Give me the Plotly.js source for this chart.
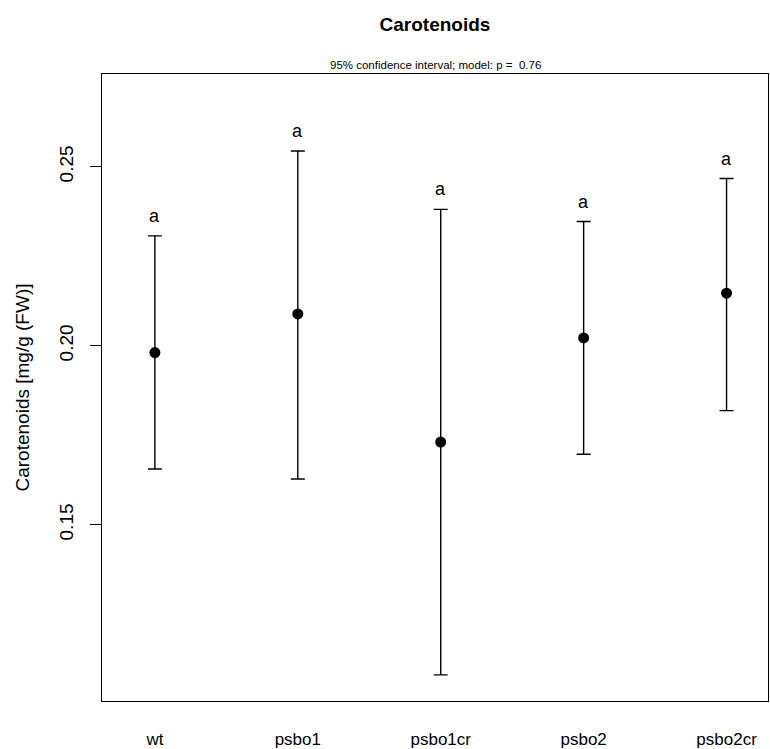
<!DOCTYPE html>
<html>
<head>
<meta charset="utf-8">
<script src="https://cdn.plot.ly/plotly-3.0.1.min.js"></script>
<style>html,body{margin:0;padding:0;background:#fff;}</style>
</head>
<body>
<div id="chart" style="width:770px;height:749px;"></div>
<script>
const groups = ["wt", "psbo1", "psbo1cr", "psbo2", "psbo2cr"];
const means = [0.1981, 0.2089, 0.1731, 0.2022, 0.2147];
const upper = [0.2307, 0.2544, 0.2381, 0.2347, 0.2467];
const lower = [0.1656, 0.1628, 0.1081, 0.1697, 0.1819];
const letters = ["a", "a", "a", "a", "a"];
const yTicks = [0.15, 0.20, 0.25];
const yTickText = ["0.15", "0.20", "0.25"];

const font = '"Liberation Sans", Arial, Helvetica, sans-serif';

const xIdx = groups.map((g, i) => i);
const trace = {
  type: 'scatter', mode: 'markers',
  x: xIdx, y: means,
  marker: {color: '#000', size: 11},
  error_y: {
    type: 'data', symmetric: false,
    array: upper.map((u, i) => u - means[i]),
    arrayminus: lower.map((l, i) => means[i] - l),
    color: '#000', thickness: 1.4, width: 7
  },
  hoverinfo: 'skip', showlegend: false
};

const annotations = letters.map((t, i) => ({
  x: i, y: upper[i], xref: 'x', yref: 'y', text: t, showarrow: false,
  yanchor: 'bottom', yshift: 8, font: {family: font, size: 18, color: '#000'}
}));
annotations.push({
  x: 0.5, y: 1, xref: 'paper', yref: 'paper', yanchor: 'bottom', yshift: 1,
  text: '95% confidence interval; model: p =  0.76', showarrow: false,
  font: {family: font, size: 11.5, color: '#000'}
});

const layout = {
  width: 770, height: 749,
  margin: {l: 102, r: 2, t: 74, b: 48},
  paper_bgcolor: '#fff', plot_bgcolor: '#fff',
  title: {text: '<b>Carotenoids</b>', x: 0.5, xanchor: 'center', xref: 'paper',
          y: 1 - 24/749, yanchor: 'middle', yref: 'container',
          font: {family: font, size: 19, color: '#000'}},
  xaxis: {
    range: [-0.37, 4.29], tickmode: 'array', tickvals: xIdx, ticktext: groups,
    ticks: '', showgrid: false, zeroline: false,
    showline: true, mirror: true, linecolor: '#000', linewidth: 1.2,
    ticklabelstandoff: 22,
    tickfont: {family: font, size: 17, color: '#000'}
  },
  yaxis: {
    range: [0.1008, 0.2759], tickmode: 'array', tickvals: yTicks, ticktext: yTickText,
    ticks: 'outside', ticklen: 11, tickwidth: 1.2, tickcolor: '#000',
    tickangle: -90, showgrid: false, zeroline: false,
    showline: true, mirror: true, linecolor: '#000', linewidth: 1.2,
    ticklabelstandoff: 9,
    tickfont: {family: font, size: 19, color: '#000'},
    title: {text: 'Carotenoids [mg/g (FW)]', standoff: 21,
            font: {family: font, size: 19, color: '#000'}}
  },
  annotations: annotations
};

Plotly.newPlot('chart', [trace], layout, {staticPlot: true, displayModeBar: false});
</script>
</body>
</html>
